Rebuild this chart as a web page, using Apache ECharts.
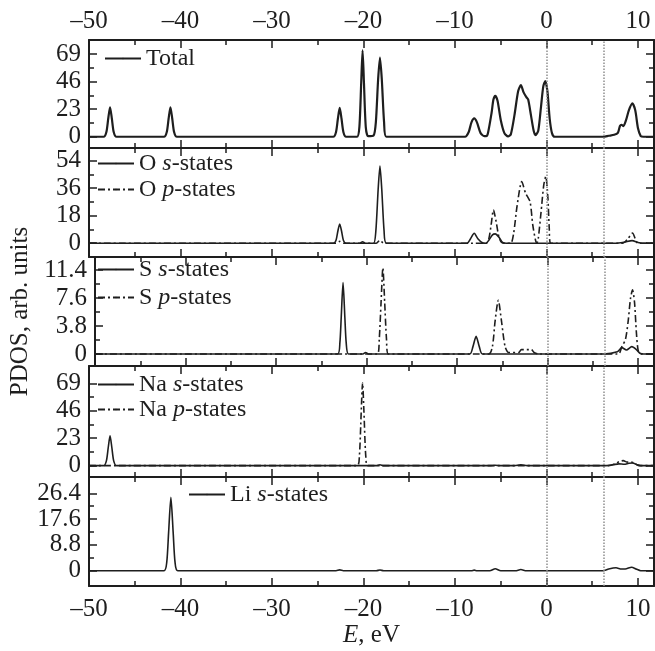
<!DOCTYPE html>
<html>
<head>
<meta charset="utf-8">
<title>PDOS</title>
<script src="https://cdn.jsdelivr.net/npm/echarts@6/dist/echarts.min.js"></script>
<style>
  html, body { margin: 0; padding: 0; background: #fff; }
  #main { width: 655px; height: 651px; }
</style>
</head>
<body>
<div id="main"></div>
<script>
// x axis (energy, eV)
var xMin = -50, xMax = 11.75;
var xMajor = [-50, -40, -30, -20, -10, 0, 10];
var xMinor = [-45, -35, -25, -15, -5, 5];
var refLines = [0, 6.3];   // dotted verticals

// y ticks per panel (top -> bottom)
var yMajor = [[0, 23, 46, 69], [0, 18, 36, 54], [0, 3.8, 7.6, 11.4], [0, 23, 46, 69], [0, 8.8, 17.6, 26.4]];
var yMinor = [[11.5, 34.5, 57.5], [9, 27, 45], [1.9, 5.7, 9.5], [11.5, 34.5, 57.5], [4.4, 13.2, 22]];
var yMin = [-9.4, -9.0, -1.63, -9.5, -5.2];
var yMax = [80.7, 62.3, 13.17, 83.5, 31.96];

// curves
var totalDos = [[-50,0],[-48.4,0],[-48.1,4],[-47.9,15],[-47.7,24.5],[-47.5,15],[-47.3,4],[-47.0,0],
  [-41.8,0],[-41.5,4],[-41.3,15],[-41.1,24.5],[-40.9,15],[-40.7,4],[-40.4,0],
  [-23.3,0],[-23.0,4],[-22.8,15],[-22.6,24],[-22.4,15],[-22.2,4],[-21.9,0],
  [-20.7,0],[-20.45,8],[-20.25,45],[-20.1,72],[-19.95,45],[-19.75,8],[-19.5,0.5],
  [-18.9,1],[-18.65,12],[-18.4,48],[-18.2,66],[-18.0,48],[-17.75,12],[-17.5,0],
  [-8.9,0],[-8.5,4],[-8.2,12],[-7.9,15.3],[-7.6,12],[-7.2,3],[-6.8,0.5],[-6.6,0.5],
  [-6.4,3],[-6.0,20],[-5.8,31],[-5.6,34.2],[-5.35,30],[-5.0,14],[-4.6,3],[-4.2,0.3],
  [-3.9,2],[-3.5,18],[-3.1,38],[-2.8,43],[-2.5,37],[-2.2,33],[-2.0,31],[-1.7,18],[-1.4,5],[-1.2,1.4],
  [-0.9,5],[-0.6,25],[-0.35,42],[-0.13,46.4],[0.1,38],[0.35,15],[0.6,3],[0.9,0],
  [6.2,0],[6.8,0.8],[7.4,1.6],[7.8,3.3],[8.03,9],[8.2,10],[8.4,8.9],[8.7,14],[9.0,22],[9.38,27.8],
  [9.7,22],[10.0,7],[10.3,0.5],[10.6,0],[11.75,0]];

var oS = [[-50,0],[-23.3,0],[-23.0,2],[-22.8,8],[-22.6,12.6],[-22.4,8],[-22.2,2],[-21.9,0],
  [-20.4,0],[-20.1,1],[-19.8,0],
  [-18.9,0],[-18.65,8],[-18.4,35],[-18.2,50.5],[-18.0,35],[-17.75,8],[-17.5,0],
  [-8.7,0],[-8.3,3],[-7.9,6.5],[-7.5,3],[-7.0,0.3],[-6.6,0],
  [-6.3,2],[-5.9,5.5],[-5.6,6.1],[-5.2,4],[-4.8,0.5],[-4.4,0],
  [7.5,0],[8.5,0.7],[9.35,1.7],[10.0,0.5],[10.5,0],[11.75,0]];
var oP = [[-50,0],[-23.0,0],[-22.6,1.2],[-22.2,0],[-18.6,0],[-18.2,2],[-17.8,0],
  [-6.6,0],[-6.3,3],[-6.05,12],[-5.8,21.8],[-5.5,14],[-5.2,4],[-4.9,0.5],[-4.5,0],
  [-3.9,0],[-3.6,6],[-3.2,25],[-2.7,40.3],[-2.3,33],[-1.8,27.2],[-1.5,12],[-1.2,2],[-1.05,0],
  [-0.9,3],[-0.6,20],[-0.3,38],[-0.08,43.6],[0.15,30],[0.3,10],[0.45,0],
  [8.3,0],[8.9,3],[9.4,6.7],[9.7,3],[10.0,0],[11.75,0]];

var sS = [[-50,0],[-23.2,0],[-22.95,1.5],[-22.8,5],[-22.6,9.7],[-22.4,5],[-22.25,1.5],[-22.0,0],
  [-20.4,0],[-20.1,0.2],[-19.8,0],
  [-8.6,0],[-8.25,1],[-7.9,2.4],[-7.55,1],[-7.2,0],
  [6.2,0],[7.7,0.3],[8.2,0.86],[8.7,0.55],[9.3,1.0],[9.8,0.6],[10.2,0.1],[10.6,0],[11.75,0]];
var sP = [[-50,0],[-18.8,0],[-18.6,2],[-18.4,7],[-18.2,11.7],[-18.0,7],[-17.8,2],[-17.6,0],
  [-6.5,0],[-6.1,1],[-5.8,4.5],[-5.45,7.3],[-5.1,4.5],[-4.7,1],[-4.3,0.2],
  [-3.2,0.2],[-2.9,0.6],[-1.8,0.6],[-1.5,0.2],[-1.0,0],
  [7.8,0],[8.2,1],[8.6,2],[8.9,4.5],[9.15,7.5],[9.38,8.7],[9.6,7],[9.8,3],[10.0,0.5],[10.3,0],[11.75,0]];

var naS = [[-50,0],[-48.4,0],[-48.1,4],[-47.9,15],[-47.7,25],[-47.5,15],[-47.3,4],[-47.0,0],
  [-18.6,0],[-18.2,0.8],[-17.8,0],[-6.2,0],[-5.6,0.4],[-5.0,0],[-3.5,0],[-2.8,0.8],[-2.1,0],
  [6.5,0],[7.3,0.8],[7.9,1.5],[8.5,1.2],[9.0,2],[9.4,2.2],[9.9,0.8],[10.3,0],[11.75,0]];
var naP = [[-50,0],[-20.7,0],[-20.45,8],[-20.25,45],[-20.1,69.5],[-19.95,45],[-19.75,8],[-19.5,0],
  [6.8,0],[7.5,1.5],[8.0,3.5],[8.4,4.2],[8.8,3],[9.2,3.2],[9.6,2],[10.1,0],[11.75,0]];

var liS = [[-50,0],[-41.8,0],[-41.5,3],[-41.3,13],[-41.05,25],[-40.8,13],[-40.6,3],[-40.3,0],
  [-23.0,0],[-22.6,0.3],[-22.2,0],[-18.6,0],[-18.2,0.25],[-17.8,0],[-8.2,0],[-7.9,0.2],[-7.6,0],
  [-6.2,0],[-5.6,0.7],[-5.0,0],[-3.4,0],[-2.8,0.4],[-2.2,0],
  [6.2,0],[6.8,0.6],[7.6,1],[8.2,0.6],[8.6,0.6],[9.3,1.2],[9.8,0.6],[10.3,0],[11.75,0]];

var panelNames = [['Total'], ['O s-states', 'O p-states'], ['S s-states', 'S p-states'],
  ['Na s-states', 'Na p-states'], ['Li s-states']];
var panelData = [[totalDos], [oS, oP], [sS, sP], [naS, naP], [liS]];

var font = 'Liberation Serif';
var ink = '#1e1e1e';
var tops = [40, 148, 257, 366, 477];
var heights = [108, 109, 109, 111, 109];
// legend left, top, gap between rows
var legendPos = [[104, 46, 0], [97, 151, 1], [97, 257, 3], [97, 372, 0], [188, 482, 0]];

var chart = echarts.init(document.getElementById('main'));

function fmtX(v) {
  return v < 0 ? '\u2013' + (-v) : String(v);
}

var grids = [], xAxes = [], yAxes = [], series = [], legends = [];
for (var i = 0; i < 5; i++) {
  grids.push({ left: 89, right: 1, top: tops[i], height: heights[i] });
  // x: bottom major, bottom minor, top major, top minor
  ['bottom', 'top'].forEach(function (pos) {
    var showLab = (pos === 'bottom' && i === 4) || (pos === 'top' && i === 0);
    xAxes.push({
      gridIndex: i, type: 'value', position: pos, min: xMin, max: xMax,
      name: (pos === 'bottom' && i === 4) ? '{i|E}, eV' : '',
      nameLocation: 'middle', nameGap: 35,
      nameTextStyle: { fontFamily: font, fontSize: 25, color: ink,
        rich: { i: { fontFamily: font, fontSize: 25, fontStyle: 'italic', color: ink } } },
      axisLine: { show: true, onZero: false, lineStyle: { color: ink, width: 2 } },
      axisTick: { show: true, inside: true, length: 8, customValues: xMajor, lineStyle: { color: ink, width: 1.5 } },
      axisLabel: { show: showLab, customValues: xMajor, formatter: fmtX, margin: pos === 'top' ? 6 : 11,
        fontFamily: font, fontSize: 25, color: ink },
      splitLine: { show: false }
    });
    xAxes.push({
      gridIndex: i, type: 'value', position: pos, min: xMin, max: xMax,
      axisLine: { show: false, onZero: false },
      axisTick: { show: true, inside: true, length: 5, customValues: xMinor, lineStyle: { color: ink, width: 1.5 } },
      axisLabel: { show: false }, splitLine: { show: false }
    });
  });
  // y: left major, left minor, right major, right minor
  ['left', 'right'].forEach(function (pos) {
    yAxes.push({
      gridIndex: i, type: 'value', position: pos, min: yMin[i], max: yMax[i],
      name: (pos === 'left' && i === 2) ? 'PDOS, arb. units' : '',
      nameLocation: 'middle', nameGap: 62, nameRotate: 90,
      nameTextStyle: { fontFamily: font, fontSize: 25, color: ink },
      axisLine: { show: true, onZero: false, lineStyle: { color: ink, width: 2 } },
      axisTick: { show: true, inside: true, length: 8, customValues: yMajor[i], lineStyle: { color: ink, width: 1.5 } },
      axisLabel: { show: pos === 'left', customValues: yMajor[i], margin: 8,
        fontFamily: font, fontSize: 25, color: ink },
      splitLine: { show: false }
    });
    yAxes.push({
      gridIndex: i, type: 'value', position: pos, min: yMin[i], max: yMax[i],
      axisLine: { show: false, onZero: false },
      axisTick: { show: true, inside: true, length: 5, customValues: yMinor[i], lineStyle: { color: ink, width: 1.5 } },
      axisLabel: { show: false }, splitLine: { show: false }
    });
  });

  panelNames[i].forEach(function (nm, k) {
    var s = {
      name: nm, type: 'line', xAxisIndex: 4 * i, yAxisIndex: 4 * i,
      data: panelData[i][k], showSymbol: false, symbol: 'none', smooth: 0.25,
      lineStyle: { color: ink, width: i === 0 ? 2.2 : 1.6, type: k === 1 ? [7, 3, 2, 3] : 'solid' },
      itemStyle: { color: ink }
    };
    if (k === 0) {
      s.markLine = {
        silent: true, symbol: ['none', 'none'], label: { show: false },
        lineStyle: { type: 'dotted', color: '#8f8f8f', width: 1.5 },
        data: refLines.map(function (v) { return { xAxis: v }; })
      };
    }
    series.push(s);
  });

  // itemHeight kept tiny so the legend shows only the line sample
  legends.push({
    data: panelNames[i], orient: 'vertical', left: legendPos[i][0], top: legendPos[i][1],
    itemGap: legendPos[i][2], itemWidth: 36, itemHeight: 2, padding: 0,
    formatter: function (name) { return name.replace(/ ([sp])-/, ' {i|$1}-'); },
    textStyle: { fontFamily: font, fontSize: 24, color: ink, lineHeight: 25,
      rich: { i: { fontFamily: font, fontSize: 24, fontStyle: 'italic', color: ink, lineHeight: 25 } } }
  });
}

chart.setOption({
  animation: false,
  backgroundColor: '#fff',
  grid: grids,
  xAxis: xAxes,
  yAxis: yAxes,
  legend: legends,
  series: series
});
</script>
</body>
</html>
